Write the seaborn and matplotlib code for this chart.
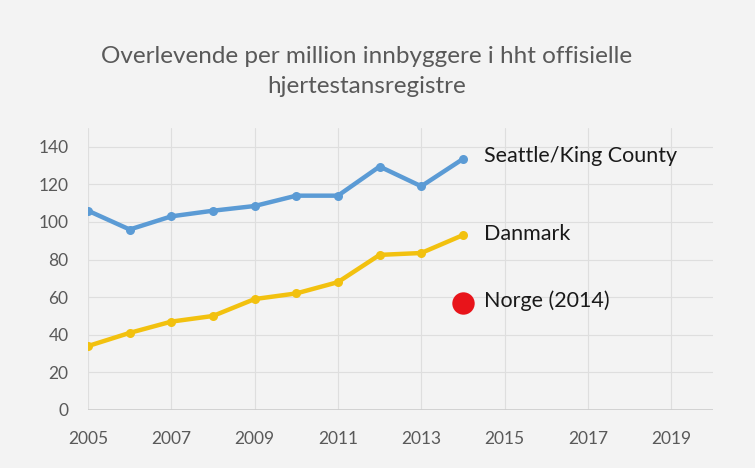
import pandas as pd
import seaborn as sns
import matplotlib.pyplot as plt

# data
years = [2005, 2006, 2007, 2008, 2009, 2010, 2011, 2012, 2013, 2014]
seattle = [106, 96, 103, 106, 108.5, 114, 114, 129.5, 119, 133.5]
danmark = [34, 41, 47, 50, 59, 62, 68, 82.5, 83.5, 93]
norge_year = [2014]
norge = [57]

title = "Overlevende per million innbyggere i hht offisielle\nhjertestansregistre"
x_ticks = [2005, 2007, 2009, 2011, 2013, 2015, 2017, 2019]
y_ticks = [0, 20, 40, 60, 80, 100, 120, 140]

sns.set_theme(style="whitegrid")
plt.rcParams["font.family"] = ["Lato", "DejaVu Sans"]

df = pd.DataFrame({
    "year": years * 2,
    "value": seattle + danmark,
    "series": ["Seattle/King County"] * len(years) + ["Danmark"] * len(years),
})

bg = "#f3f3f3"
fig = plt.figure(figsize=(7.55, 4.68), dpi=100, facecolor=bg)
ax = fig.add_axes([0.1166, 0.124, 0.8275, 0.6025])
ax.set_facecolor(bg)

colors = {"Seattle/King County": "#5b9bd5", "Danmark": "#f2c10f"}
sns.lineplot(data=df, x="year", y="value", hue="series", palette=colors,
             marker="o", markersize=6.5, linewidth=3.2, markeredgewidth=0,
             legend=False, ax=ax)
sns.scatterplot(x=norge_year, y=norge, color="#e8141a", s=260, linewidth=0, ax=ax, zorder=5)

ax.set_xlim(2005, 2020)
ax.set_ylim(0, 150)
ax.set_xticks(x_ticks)
ax.set_yticks(y_ticks)
ax.grid(True, color="#dedede", linewidth=0.8)
for s in ax.spines.values():
    s.set_visible(False)
ax.axhline(0, color="#cccccc", linewidth=1.2, zorder=1)
ax.tick_params(axis="both", colors="#595959", labelsize=12.5, length=0)
ax.tick_params(axis="y", pad=14)
ax.tick_params(axis="x", pad=15)
ax.set_xlabel("")
ax.set_ylabel("")

ax.text(2014.5, seattle[-1] + 1.5, "Seattle/King County", fontsize=15.5, color="#1a1a1a", va="center")
ax.text(2014.5, danmark[-1] + 0.5, "Danmark", fontsize=15.5, color="#1a1a1a", va="center")
ax.text(2014.5, norge[0] + 1, "Norge (2014)", fontsize=15.5, color="#1a1a1a", va="center")

fig.text(0.486, 0.847, title, ha="center", va="center", fontsize=17.5, color="#595959",
         linespacing=1.5)

fig.savefig("out.png", dpi=100, facecolor=bg)
